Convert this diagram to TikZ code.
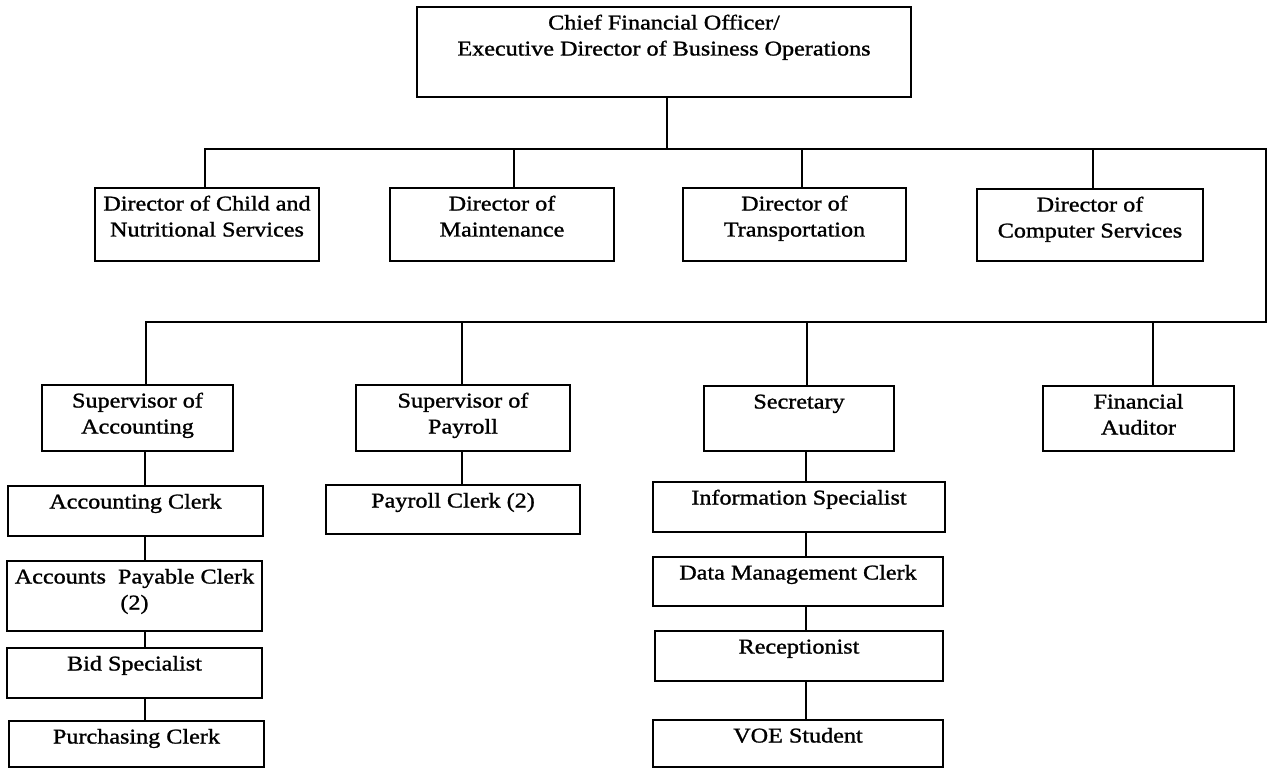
\documentclass[tikz,border=0pt]{standalone}
\usepackage{fontspec}
\setmainfont[FakeStretch=1.15,FakeBold=1.2]{Liberation Serif}
\newcommand\bxtext[3]{\parbox[c][#2][t]{#1}{\centering\rule{0pt}{22.5pt}#3}}
\begin{document}
\begin{tikzpicture}[x=1pt,y=-1pt,
  box/.style={draw, line width=2.4pt, inner sep=0pt, outer sep=0pt, anchor=north west,
    font=\fontsize{21}{26}\selectfont},
  conn/.style={line width=1.7pt, line cap=rect}]
\useasboundingbox[fill=white] (0,0) rectangle (1270,770);
% boxes
\node[box] (top) at (417,7) {\bxtext{494pt}{90pt}{Chief Financial Officer/\\Executive Director of Business Operations}};
\node[box] (child) at (95,188) {\bxtext{224pt}{73pt}{Director of Child and\\Nutritional Services}};
\node[box] (maint) at (390,188) {\bxtext{224pt}{73pt}{Director of\\Maintenance}};
\node[box] (trans) at (683,188) {\bxtext{223pt}{73pt}{Director of\\Transportation}};
\node[box] (comp) at (977,189) {\bxtext{226pt}{72pt}{Director of\\Computer Services}};
\node[box] (sacc) at (42,385) {\bxtext{191pt}{66pt}{Supervisor of\\Accounting}};
\node[box] (spay) at (356,385) {\bxtext{214pt}{66pt}{Supervisor of\\Payroll}};
\node[box] (sec) at (704,386) {\bxtext{190pt}{65pt}{Secretary}};
\node[box] (aud) at (1043,386) {\bxtext{191pt}{65pt}{Financial\\Auditor}};
\node[box] (accclerk) at (8,486) {\bxtext{255pt}{50pt}{Accounting Clerk}};
\node[box] (ap) at (7,561) {\bxtext{255pt}{70pt}{Accounts~~Payable Clerk\\(2)}};
\node[box] (bid) at (7,648) {\bxtext{255pt}{50pt}{Bid Specialist}};
\node[box] (purch) at (9,721) {\bxtext{255pt}{46pt}{Purchasing Clerk}};
\node[box] (payclerk) at (326,485) {\bxtext{254pt}{49pt}{Payroll Clerk (2)}};
\node[box] (info) at (653,482) {\bxtext{292pt}{50pt}{Information Specialist}};
\node[box] (data) at (653,557) {\bxtext{290pt}{49pt}{Data Management Clerk}};
\node[box] (recep) at (655,631) {\bxtext{288pt}{50pt}{Receptionist}};
\node[box] (voe) at (653,720) {\bxtext{290pt}{47pt}{VOE Student}};
% bus coordinates
\coordinate (m1) at (667,149);
\coordinate (d1) at (205,149);
\coordinate (d2) at (514,149);
\coordinate (d3) at (802,149);
\coordinate (d4) at (1093,149);
\coordinate (r1) at (1266,149);
\coordinate (r2) at (1266,322);
\coordinate (e1) at (146,322);
\coordinate (e2) at (462,322);
\coordinate (e3) at (807,322);
\coordinate (e4) at (1153,322);
\coordinate (ca) at (145,0);
\coordinate (cp) at (462,0);
\coordinate (cs) at (806,0);
% connectors
\draw[conn] (m1 |- top.south) -- (m1);
\draw[conn] (d1) -- (r1) -- (r2) -- (e1);
\draw[conn] (d1) -- (d1 |- child.north);
\draw[conn] (d2) -- (d2 |- maint.north);
\draw[conn] (d3) -- (d3 |- trans.north);
\draw[conn] (d4) -- (d4 |- comp.north);
\draw[conn] (e1) -- (e1 |- sacc.north);
\draw[conn] (e2) -- (e2 |- spay.north);
\draw[conn] (e3) -- (e3 |- sec.north);
\draw[conn] (e4) -- (e4 |- aud.north);
\draw[conn] (ca |- sacc.south) -- (ca |- accclerk.north);
\draw[conn] (ca |- accclerk.south) -- (ca |- ap.north);
\draw[conn] (ca |- ap.south) -- (ca |- bid.north);
\draw[conn] (ca |- bid.south) -- (ca |- purch.north);
\draw[conn] (cp |- spay.south) -- (cp |- payclerk.north);
\draw[conn] (cs |- sec.south) -- (cs |- info.north);
\draw[conn] (cs |- info.south) -- (cs |- data.north);
\draw[conn] (cs |- data.south) -- (cs |- recep.north);
\draw[conn] (cs |- recep.south) -- (cs |- voe.north);
\end{tikzpicture}
\end{document}
